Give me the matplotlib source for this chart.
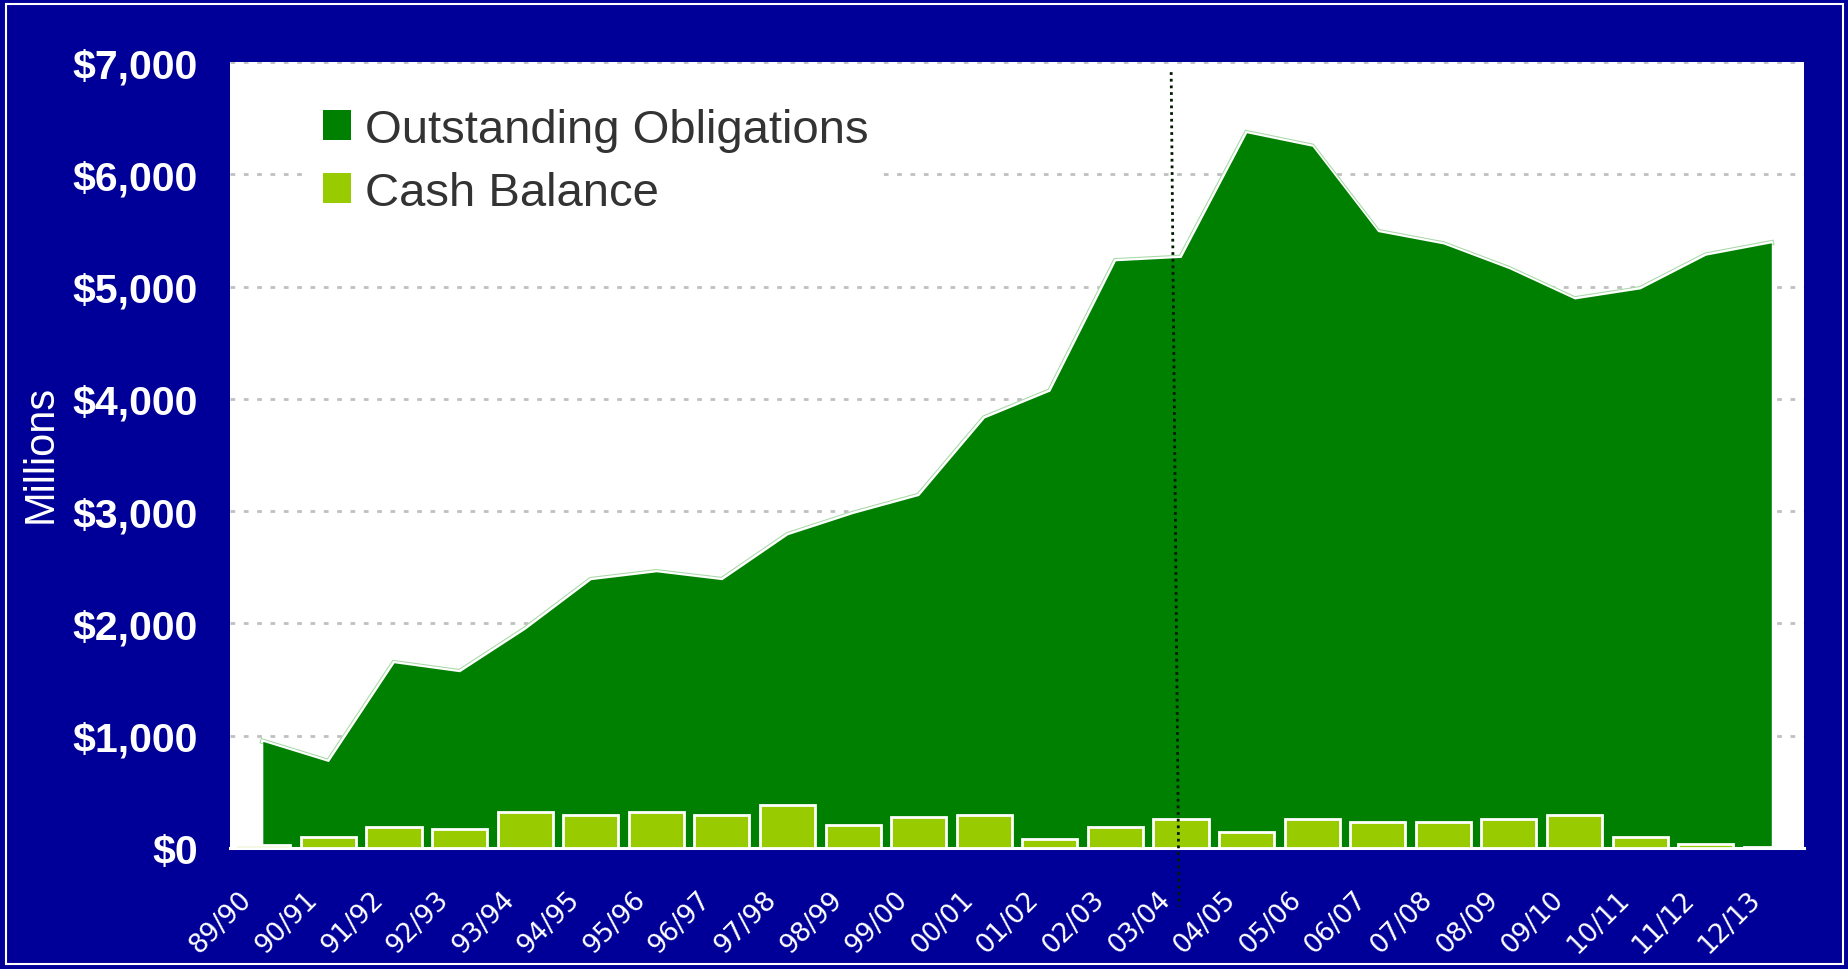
import matplotlib

matplotlib.use("Agg")
import matplotlib.pyplot as plt
from matplotlib.patches import Patch, Rectangle
from matplotlib.transforms import ScaledTranslation

years = ["89/90", "90/91", "91/92", "92/93", "93/94", "94/95", "95/96", "96/97",
         "97/98", "98/99", "99/00", "00/01", "01/02", "02/03", "03/04", "04/05",
         "05/06", "06/07", "07/08", "08/09", "09/10", "10/11", "11/12", "12/13"]
obligations = [950, 770, 1650, 1570, 1950, 2390, 2460, 2390, 2790, 2980, 3140, 3830,
               4070, 5230, 5260, 6370, 6250, 5490, 5380, 5160, 4890, 4980, 5280, 5390]
cash = [24, 100, 188, 167, 318, 297, 318, 297, 382, 209, 273, 297,
        79, 188, 255, 145, 255, 230, 230, 255, 297, 100, 36, 12]
yticks = [0, 1000, 2000, 3000, 4000, 5000, 6000, 7000]

BG = "#000099"
DARK_GREEN = "#008000"
LIGHT_GREEN = "#99CC00"

fig = plt.figure(figsize=(18.49, 9.70), dpi=100, facecolor=BG)
fig.patches.append(Rectangle((0.003, 0.005), 0.994, 0.99, transform=fig.transFigure,
                             fill=False, edgecolor="white", linewidth=1.5))
ax = fig.add_axes([0.1244, 0.1247, 0.8513, 0.8103])
ax.set_facecolor("white")

x = list(range(len(years)))

# area with a white / pale green rim on top
ax.plot(x, obligations, color="#A8D8A8", linewidth=4, zorder=2, solid_joinstyle="miter")
ax.plot(x, obligations, color="white", linewidth=2.5, zorder=2.1, solid_joinstyle="miter")
ax.fill_between(x, 0, obligations, color=DARK_GREEN, linewidth=0, zorder=2.2)

ax.bar(x, cash, width=0.84, color=LIGHT_GREEN, edgecolor="white", linewidth=2, zorder=3)

# marker line between 02/03 and 03/04 bars
ax.plot([13.85, 13.97], [6910, -525], color="#001a00", linestyle=(0, (1, 1.4)),
        linewidth=2, zorder=4, clip_on=False)

ax.set_xlim(-0.5, 23.5)
ax.set_ylim(0, 7000)
ax.set_yticks(yticks)
ax.set_yticklabels([f"${v:,}" for v in yticks], fontfamily="Liberation Sans",
                   fontweight="bold", fontsize=29.5, color="white")
ax.yaxis.grid(True, color="#C0C0C0", linestyle=(0, (1.7, 3.1)), linewidth=2, zorder=1)
ax.set_axisbelow(True)
ax.tick_params(axis="y", length=0, pad=23)

ax.set_xticks(x)
ax.set_xticklabels(years, rotation=45, ha="right", va="top", rotation_mode="anchor",
                   fontfamily="DejaVu Sans", fontsize=19, color="white")
ax.tick_params(axis="x", which="major", length=0, pad=27)
shift = ScaledTranslation(-0.24, 0, fig.dpi_scale_trans)
for lab in ax.get_xticklabels():
    lab.set_transform(lab.get_transform() + shift)
ax.set_xticks([i + 0.5 for i in x[:-1]], minor=True)
ax.tick_params(axis="x", which="minor", direction="in", length=7, width=1.5, color="white")

for side in ["top", "right", "left"]:
    ax.spines[side].set_visible(False)
ax.spines["bottom"].set_color("white")
ax.spines["bottom"].set_linewidth(2.2)

fig.text(0.022, 0.532, "Millions", rotation=90, ha="center", va="center", color="white",
         fontsize=30, fontfamily="Liberation Sans")

handles = [Patch(facecolor=DARK_GREEN, edgecolor="none"),
           Patch(facecolor=LIGHT_GREEN, edgecolor="none")]
leg = ax.legend(handles, ["Outstanding Obligations", "Cash Balance"],
                loc="upper left", bbox_to_anchor=(0.035, 0.99),
                prop={"family": "Liberation Sans", "size": 34},
                labelcolor="#333333", frameon=True, facecolor="white", edgecolor="none",
                framealpha=1, fancybox=False, handlelength=0.6, handleheight=0.6,
                handletextpad=0.3, labelspacing=0.4, borderpad=0.3)
leg.set_zorder(5)

fig.savefig("out.png", dpi=100, facecolor=BG)
